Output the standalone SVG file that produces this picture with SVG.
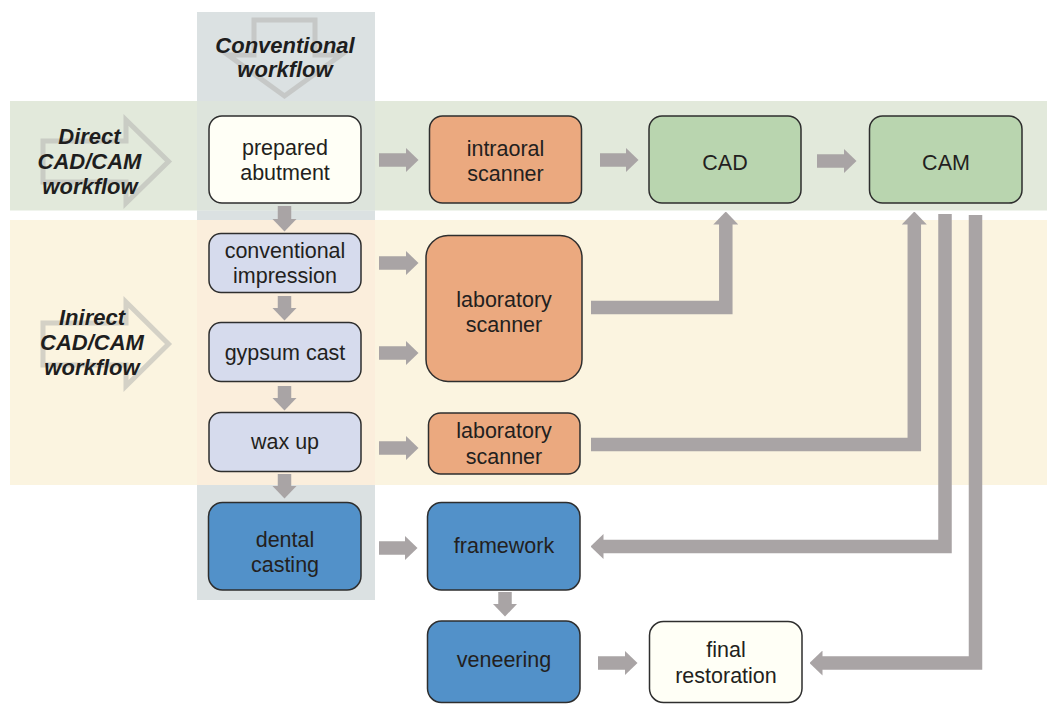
<svg xmlns="http://www.w3.org/2000/svg" width="1047" height="704" viewBox="0 0 1047 704">
<style>
text{font-family:"Liberation Sans",Arial,Helvetica,sans-serif;fill:#231f20;text-anchor:middle}
.t{font-size:21.5px}
.h{font-size:22px;font-weight:bold;font-style:italic;fill:#1e1e1e}
.n{stroke:#2e2e2e;stroke-width:1.5}
.white{fill:#fffff6}
.orange{fill:#eba97f}
.green{fill:#b9d5af}
.lav{fill:#d6dbed}
.blue{fill:#5291c9}
.big{fill:none;stroke:#b4b4b0;stroke-opacity:0.55;stroke-width:5;stroke-linejoin:miter}
.c{fill:none;stroke:#a9a4a5;stroke-width:13.5;stroke-linejoin:miter;marker-end:url(#ah)}
</style>
<defs>
<marker id="ah" markerUnits="userSpaceOnUse" viewBox="0 0 13 25" markerWidth="13" markerHeight="25" refX="0.5" refY="12.5" orient="auto">
<path d="M0,0 L13,12.5 L0,25 Z" fill="#a9a4a5"/>
</marker>
</defs>
<rect width="1047" height="704" fill="#ffffff"/>
<g id="bands">
<rect x="10" y="101" width="1037" height="109.5" fill="#e2e9db"/>
<rect x="10" y="220" width="1037" height="265" fill="#fbf4e0"/>
<rect x="197" y="12" width="178" height="89" fill="#dbe1e2"/>
<rect x="197" y="101" width="178" height="109.5" fill="#dde4dc"/>
<rect x="197" y="210.5" width="178" height="9.5" fill="#dbe1e2"/>
<rect x="197" y="220" width="178" height="265" fill="#fbeedc"/>
<rect x="197" y="485" width="178" height="115" fill="#dbe1e2"/>
</g>
<g id="workflow-labels">
<g id="conventional-workflow">
<polygon class="big" points="254,20 315,20 315,55 341,55 284.5,96 228,55 254,55"/>
<text class="h" x="285" y="53">Conventional</text>
<text class="h" x="285" y="77">workflow</text>
</g>
<g id="direct-workflow">
<polygon class="big" points="43,141 126,141 126,120 168.5,161.5 126,203 126,182 43,182"/>
<text class="h" x="89.5" y="144">Direct</text>
<text class="h" x="89.5" y="169">CAD/CAM</text>
<text class="h" x="90" y="194">workflow</text>
</g>
<g id="indirect-workflow">
<polygon class="big" points="43,323 126,323 126,302 168.5,344 126,386 126,365 43,365"/>
<text class="h" x="92" y="325">Inirect</text>
<text class="h" x="92" y="350">CAD/CAM</text>
<text class="h" x="92" y="375">workflow</text>
</g>
</g>
<g id="connectors">
<path class="c" d="M379,160 H406"/>
<path class="c" d="M600,160 H626"/>
<path class="c" d="M817,161 H844"/>
<path class="c" d="M284.5,206 V219"/>
<path class="c" d="M284.5,296 V308"/>
<path class="c" d="M284.5,386 V398"/>
<path class="c" d="M284.5,474 V486"/>
<path class="c" d="M379,263 H406"/>
<path class="c" d="M379,353 H406"/>
<path class="c" d="M379,448 H406"/>
<path class="c" d="M379,548 H405"/>
<path class="c" d="M505,592 V604"/>
<path class="c" d="M598,663 H625"/>
<path class="c" d="M591,307.5 H725.8 V224"/>
<path class="c" d="M591,444.5 H914.3 V224"/>
<path class="c" d="M945,214 V546.5 H603"/>
<path class="c" d="M975.5,215 V663 H822"/>
</g>
<g id="prepared-abutment">
<rect class="n white" x="209" y="116" width="152" height="87" rx="13"/>
<text class="t" x="285" y="155">prepared</text>
<text class="t" x="285" y="180">abutment</text>
</g>
<g id="intraoral-scanner">
<rect class="n orange" x="429.5" y="116" width="152" height="87" rx="13"/>
<text class="t" x="505.5" y="156">intraoral</text>
<text class="t" x="505.5" y="181">scanner</text>
</g>
<g id="cad">
<rect class="n green" x="649" y="116" width="152" height="87" rx="13"/>
<text class="t" x="725" y="170">CAD</text>
</g>
<g id="cam">
<rect class="n green" x="869.5" y="116" width="152.5" height="87" rx="13"/>
<text class="t" x="946" y="170">CAM</text>
</g>
<g id="conventional-impression">
<rect class="n lav" x="209" y="233.5" width="152" height="59" rx="12"/>
<text class="t" x="285" y="258">conventional</text>
<text class="t" x="285" y="283">impression</text>
</g>
<g id="gypsum-cast">
<rect class="n lav" x="209" y="322.5" width="152" height="59" rx="12"/>
<text class="t" x="285" y="360">gypsum cast</text>
</g>
<g id="wax-up">
<rect class="n lav" x="209" y="412.5" width="152" height="59" rx="12"/>
<text class="t" x="285" y="449">wax up</text>
</g>
<g id="laboratory-scanner-1">
<rect class="n orange" x="426" y="235.5" width="156" height="146" rx="22"/>
<text class="t" x="504" y="307">laboratory</text>
<text class="t" x="504" y="332">scanner</text>
</g>
<g id="laboratory-scanner-2">
<rect class="n orange" x="428.5" y="413" width="151.5" height="61" rx="12"/>
<text class="t" x="504" y="438">laboratory</text>
<text class="t" x="504" y="464">scanner</text>
</g>
<g id="dental-casting">
<rect class="n blue" x="208.5" y="502.5" width="152.5" height="87.5" rx="14"/>
<text class="t" x="285" y="547">dental</text>
<text class="t" x="285" y="572">casting</text>
</g>
<g id="framework">
<rect class="n blue" x="427.5" y="502.5" width="152.5" height="87.5" rx="14"/>
<text class="t" x="504" y="553">framework</text>
</g>
<g id="veneering">
<rect class="n blue" x="427.5" y="621" width="152.5" height="81.5" rx="14"/>
<text class="t" x="504" y="667">veneering</text>
</g>
<g id="final-restoration">
<rect class="n white" x="649.5" y="621.5" width="152.5" height="81" rx="14"/>
<text class="t" x="726" y="657">final</text>
<text class="t" x="726" y="683">restoration</text>
</g>
</svg>
